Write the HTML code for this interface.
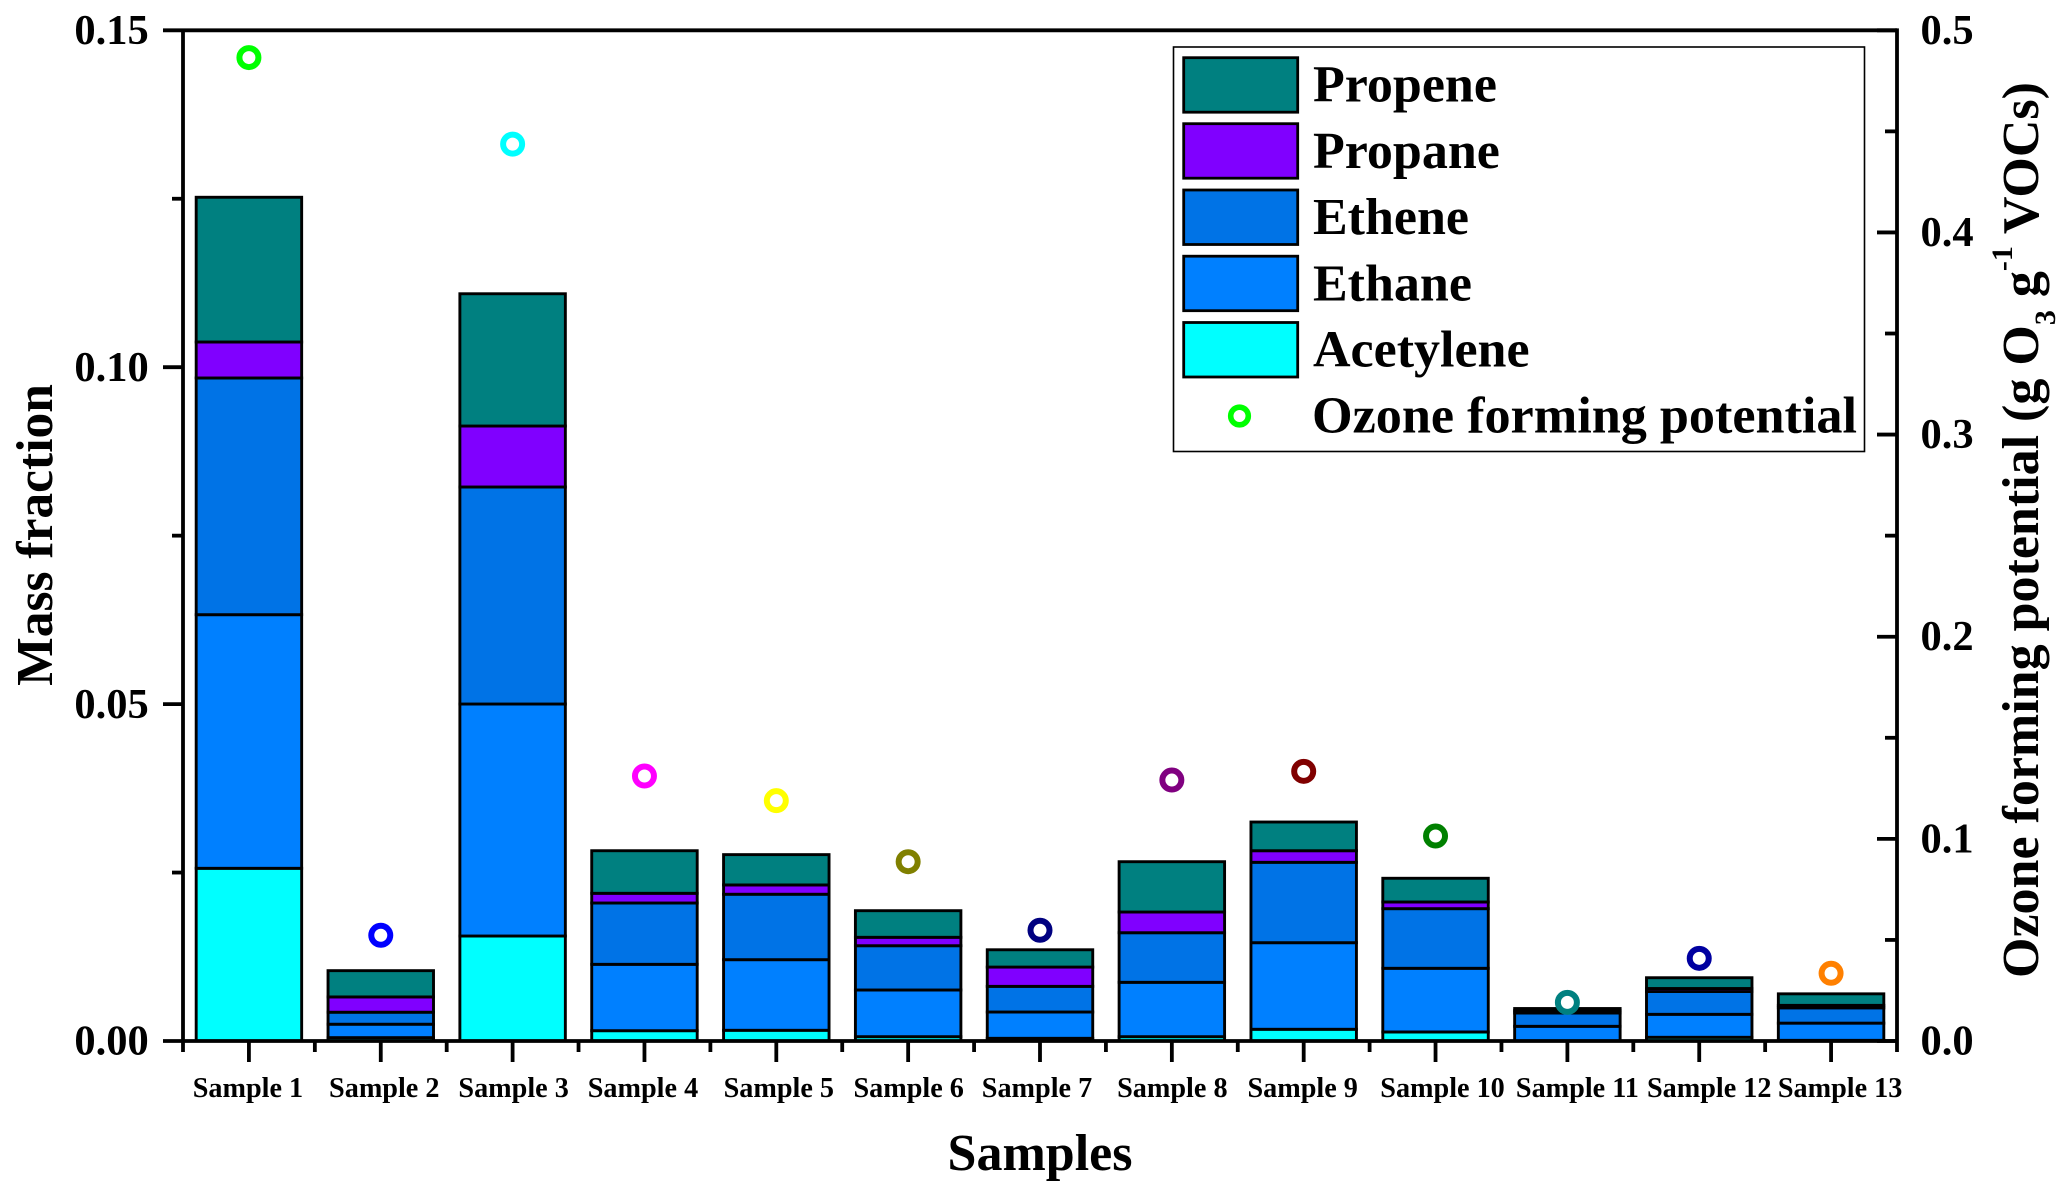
<!DOCTYPE html>
<html lang="en">
<head>
<meta charset="utf-8">
<title>Mass fraction and ozone forming potential by sample</title>
<style>
html,body{margin:0;padding:0;background:#fff;}
svg{display:block;}
text{font-family:"Liberation Serif",serif;font-weight:bold;fill:#000;}
</style>
</head>
<body>
<svg id="chart" xmlns="http://www.w3.org/2000/svg" width="2067" height="1186" viewBox="0 0 2067 1186">
  <rect x="0" y="0" width="2067" height="1186" fill="#fff"/>
  <g id="bars"></g>
  <g id="axes"></g>
  <g id="points"></g>

  <text x="1040" y="1170" font-size="52" text-anchor="middle">Samples</text>
  <text transform="translate(52,535) rotate(-90)" font-size="51.5" text-anchor="middle">Mass fraction</text>
  <text transform="translate(2038,978) rotate(-90)" font-size="52">Ozone forming potential (g O<tspan font-size="30" dy="17">3</tspan><tspan dy="-17"> g</tspan><tspan font-size="30" dy="-26">-1</tspan><tspan dy="26"> VOCs)</tspan></text>

  <g>
    <rect x="1173.5" y="47" width="691" height="404.5" fill="#fff" stroke="#000" stroke-width="1.6"/>
    <g>
      <rect x="1183.7" y="57.7" width="114" height="54.5" fill="#008080" stroke="#000" stroke-width="2.8"/>
      <text x="1313" y="101.5" font-size="52">Propene</text>
    </g>
    <g>
      <rect x="1183.7" y="123.7" width="114" height="54.5" fill="#8000ff" stroke="#000" stroke-width="2.8"/>
      <text x="1313" y="168" font-size="52">Propane</text>
    </g>
    <g>
      <rect x="1183.7" y="190" width="114" height="54.5" fill="#0073e6" stroke="#000" stroke-width="2.8"/>
      <text x="1313" y="234" font-size="52">Ethene</text>
    </g>
    <g>
      <rect x="1183.7" y="256.2" width="114" height="54.5" fill="#0080ff" stroke="#000" stroke-width="2.8"/>
      <text x="1313" y="300.5" font-size="52">Ethane</text>
    </g>
    <g>
      <rect x="1183.7" y="322.5" width="114" height="54.5" fill="#00ffff" stroke="#000" stroke-width="2.8"/>
      <text x="1313" y="366.7" font-size="52">Acetylene</text>
    </g>
    <g>
      <circle cx="1239.5" cy="416" r="8.8" fill="#fff" stroke="#00ff00" stroke-width="5.6"/>
      <text x="1312" y="432.7" font-size="52.2">Ozone forming potential</text>
    </g>
  </g>
</svg>

<script>
const categories = ['Sample 1','Sample 2','Sample 3','Sample 4','Sample 5','Sample 6','Sample 7','Sample 8','Sample 9','Sample 10','Sample 11','Sample 12','Sample 13'];
const acetylene = [0.02563,0.0005,0.01558,0.00153,0.00159,0.00064,0.0004,0.00064,0.00174,0.00134,0,0.00055,0.0001];
const ethane = [0.03764,0.00199,0.03443,0.00985,0.01048,0.00693,0.0039,0.00807,0.01285,0.00945,0.00218,0.00341,0.00255];
const ethene = [0.03513,0.00178,0.03221,0.0091,0.00971,0.00657,0.00381,0.00736,0.01193,0.00885,0.00197,0.00338,0.00227];
const propane = [0.00534,0.00227,0.00905,0.00144,0.00138,0.00125,0.00286,0.00307,0.00172,0.00099,0.00037,0.00045,0.00037];
const propene = [0.02148,0.0039,0.01963,0.00632,0.0045,0.00395,0.00257,0.00747,0.00426,0.00352,0.0003,0.0016,0.00171];
const ozonePotential = [0.4865,0.0523,0.4437,0.1311,0.1189,0.0887,0.0548,0.1291,0.1334,0.1014,0.0191,0.0409,0.0335];
const leftTickLabels = ['0.00','0.05','0.10','0.15'];
const rightTickLabels = ['0.0','0.1','0.2','0.3','0.4','0.5'];

const SVG_NS = 'http://www.w3.org/2000/svg';
const plot = {left:183, right:1897, top:30.3, bottom:1041};
const leftMax = 0.15;
const rightMax = 0.5;

function xBand() { return (plot.right - plot.left) / categories.length; }
function xCenter(i) { return plot.left + xBand() * (i + 0.5); }
function yLeft(v) { return plot.bottom - (v / leftMax) * (plot.bottom - plot.top); }
function yRight(v) { return plot.bottom - (v / rightMax) * (plot.bottom - plot.top); }

function make(tag, attrs, parent, content) {
  const node = document.createElementNS(SVG_NS, tag);
  for (const key in attrs) node.setAttribute(key, attrs[key]);
  if (content !== undefined) node.textContent = content;
  parent.appendChild(node);
  return node;
}

function drawBars() {
  const group = document.getElementById('bars');
  const stack = [
    {key:'acetylene', values:acetylene, fill:'#00ffff'},
    {key:'ethane', values:ethane, fill:'#0080ff'},
    {key:'ethene', values:ethene, fill:'#0073e6'},
    {key:'propane', values:propane, fill:'#8000ff'},
    {key:'propene', values:propene, fill:'#008080'}
  ];
  const barWidth = xBand() * 0.8;
  categories.forEach(function (name, i) {
    let running = 0;
    stack.forEach(function (layer) {
      const value = layer.values[i];
      const top = yLeft(running + value);
      const bottom = yLeft(running);
      const rect = make('rect', {
        x: xCenter(i) - barWidth / 2,
        y: top,
        width: barWidth,
        height: Math.max(0, bottom - top),
        fill: layer.fill,
        stroke: '#000',
        'stroke-width': 2.9
      }, group);
      
      
      running += value;
    });
  });
}

function drawLine(group, x1, y1, x2, y2, name) {
  const line = make('line', {x1:x1, y1:y1, x2:x2, y2:y2, stroke:'#000', 'stroke-width':3.8}, group);
  
  
}

function drawAxes() {
  const group = document.getElementById('axes');
  drawLine(group, plot.left, plot.top, plot.left, plot.bottom + 11, 'left-y-axis-line');
  drawLine(group, plot.right, plot.top - 1.9, plot.right, plot.bottom + 11, 'right-y-axis-line');
  drawLine(group, plot.left, plot.top, plot.right, plot.top, 'top-axis-line');
  drawLine(group, plot.left, plot.bottom, plot.right, plot.bottom, 'x-axis-line');

  leftTickLabels.forEach(function (label, i) {
    const value = parseFloat(label);
    const y = yLeft(value);
    drawLine(group, plot.left - 20, y, plot.left, y, 'left-major-tick');
    const text = make('text', {x:148.7, y:y + 13.7, 'font-size':42.5, 'text-anchor':'end'}, group, label);
    
    
    if (i < leftTickLabels.length - 1) {
      const minorY = yLeft(value + leftMax / (leftTickLabels.length - 1) / 2);
      drawLine(group, plot.left - 11, minorY, plot.left, minorY, 'left-minor-tick');
    }
  });

  rightTickLabels.forEach(function (label, i) {
    const value = parseFloat(label);
    const y = yRight(value);
    drawLine(group, plot.right - 20, y, plot.right, y, 'right-major-tick');
    const text = make('text', {x:1920.5, y:y + 13.5, 'font-size':42.5}, group, label);
    
    
    if (i < rightTickLabels.length - 1) {
      const minorY = yRight(value + rightMax / (rightTickLabels.length - 1) / 2);
      drawLine(group, plot.right - 12, minorY, plot.right, minorY, 'right-minor-tick');
    }
  });

  const labelNudge = [-1, 3.5, 1, -1.5, 2.5, 0.5, -3, 0.5, -1, 7, 10, 10, 9];
  categories.forEach(function (name, i) {
    drawLine(group, xCenter(i), plot.bottom, xCenter(i), plot.bottom + 21, 'x-major-tick');
    if (i > 0) {
      const boundary = plot.left + xBand() * i;
      drawLine(group, boundary, plot.bottom, boundary, plot.bottom + 11, 'x-minor-tick');
    }
    const text = make('text', {x:xCenter(i) + labelNudge[i], y:1097, 'font-size':28.2, 'text-anchor':'middle'}, group, name);
    
    
  });
}

function drawPoints() {
  const group = document.getElementById('points');
  const ringColors = ['#00ff00','#0000ff','#00ffff','#ff00ff','#ffff00','#808000','#000080','#800080','#800000','#008000','#008080','#0000a0','#ff8000'];
  ozonePotential.forEach(function (value, i) {
    const ring = make('circle', {
      cx: xCenter(i),
      cy: yRight(value),
      r: 9.5,
      fill: '#fff',
      stroke: ringColors[i],
      'stroke-width': 6
    }, group);
    
    
  });
}

drawBars();
drawAxes();
drawPoints();
</script>
</body>
</html>
